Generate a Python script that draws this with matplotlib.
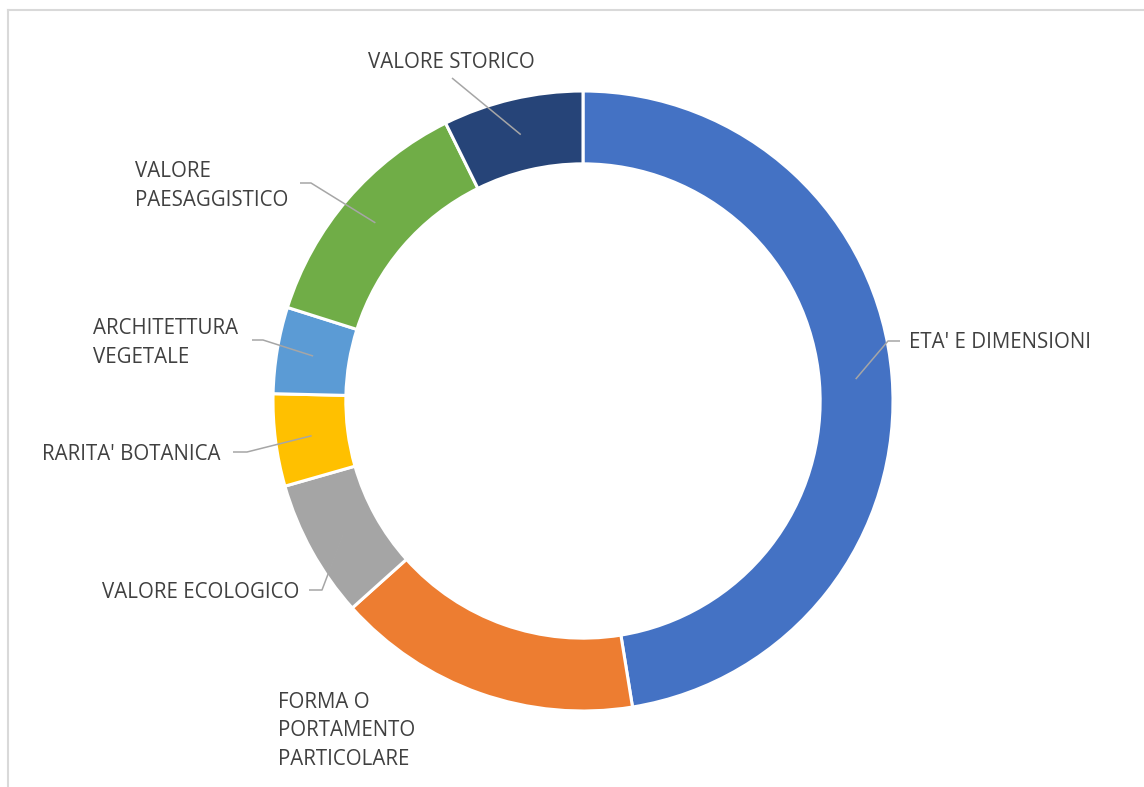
"""Donut chart of tree-protection criteria (Italian labels)."""

import matplotlib
matplotlib.use('Agg')
import matplotlib.pyplot as plt
from matplotlib.lines import Line2D
import numpy as np

plt.rcParams['font.family'] = ['Open Sans', 'DejaVu Sans']

labels = ["ETA' E DIMENSIONI", 'FORMA O\nPORTAMENTO\nPARTICOLARE', 'VALORE ECOLOGICO',
          "RARITA' BOTANICA", 'ARCHITETTURA\nVEGETALE', 'VALORE\nPAESAGGISTICO',
          'VALORE STORICO']
values = [47.4, 15.9, 7.2, 4.8, 4.5, 12.8, 7.3]
colors = ['#4472C4', '#ED7D31', '#A5A5A5', '#FFC000', '#5B9BD5', '#70AD47', '#264478']

W, H, DPI = 1144, 787, 100
CX, CY, R = 583, 401, 310     # pie centre and radius in pixels
HOLE = 0.765

def px(x, y):
    return (x - CX) / R, (CY - y) / R

fig = plt.figure(figsize=(W / DPI, H / DPI), dpi=DPI, facecolor='white')
ax = fig.add_axes([0, 0, 1, 1])

wedges, _ = ax.pie(values, colors=colors, startangle=90, counterclock=False,
                   radius=1, wedgeprops={'width': 1 - HOLE, 'edgecolor': 'white',
                                         'linewidth': 2.2})
ax.set_aspect('auto')
ax.set_xlim(px(0, 0)[0], px(W, 0)[0])
ax.set_ylim(px(0, H)[1], px(0, 0)[1])
ax.axis('off')

# label anchor (left/centre x, centre y) and leader elbow points, in pixels
label_pos = [(909, 343, 'left'), (278, 731, 'left'), (102, 592, 'left'),
             (42, 455, 'left'), (93, 343, 'left'), (135, 186, 'left'),
             (451, 62, 'center')]
leaders = [[(888, 341), (900, 341)], None, [(322, 590), (309, 590)],
           [(247, 452), (233, 452)], [(263, 340), (252, 340)],
           [(311, 183), (300, 183)], [(452, 78)]]

mid_r = (1 + HOLE) / 2
for w, lab, (lx, ly, ha), pts in zip(wedges, labels, label_pos, leaders):
    x, y = px(lx, ly)
    ax.text(x, y, lab, ha=ha, va='center', fontsize=14.8, color='#404040',
            linespacing=1.45)
    if pts:
        ang = np.deg2rad((w.theta1 + w.theta2) / 2)
        xs = [mid_r * np.cos(ang)] + [px(*p)[0] for p in pts]
        ys = [mid_r * np.sin(ang)] + [px(*p)[1] for p in pts]
        ax.plot(xs, ys, color='#A6A6A6', lw=1.1, solid_capstyle='butt', zorder=3)

# chart frame (left and top edge only visible in the crop)
fig.add_artist(Line2D([7.5 / W, 7.5 / W], [0, 1 - 10 / H], color='#D9D9D9', lw=1.5,
                      transform=fig.transFigure))
fig.add_artist(Line2D([7.5 / W, 1], [1 - 10 / H, 1 - 10 / H], color='#D9D9D9', lw=1.5,
                      transform=fig.transFigure))

fig.savefig('out.png', dpi=DPI, facecolor='white')
